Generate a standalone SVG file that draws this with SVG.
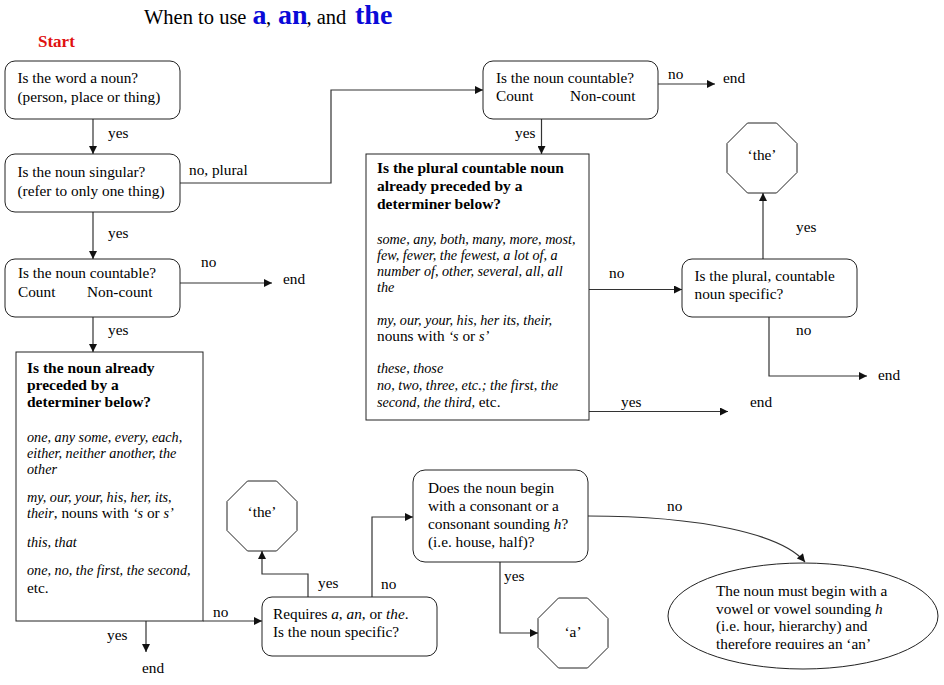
<svg xmlns="http://www.w3.org/2000/svg" width="944" height="685" viewBox="0 0 944 685" font-family="'Liberation Serif', 'DejaVu Serif', serif">
<defs>
<style>
text { font-family: "Liberation Serif", "DejaVu Serif", serif; font-size: 15.3px; fill: #000; }
.b { font-weight: bold; font-size: 15.5px; }
.i { font-style: italic; font-size: 14.2px; }
.n { font-style: normal; font-size: 15.3px; }
.node { fill: #fff; stroke: #222; stroke-width: 1; }
.edge { fill: none; stroke: #333; stroke-width: 1.2; marker-end: url(#ah); }
.c { text-anchor: middle; }
</style>
<marker id="ah" viewBox="0 0 10 10" refX="10" refY="5" markerWidth="9" markerHeight="8" markerUnits="userSpaceOnUse" orient="auto">
<path d="M0,0 L10,5 L0,10 z" fill="#111"/>
</marker>
<clipPath id="ellclip"><rect x="700" y="560" width="220" height="89"/></clipPath>
</defs>
<rect width="944" height="685" fill="#fff"/>

<g id="title">
<text y="24" style="font-size:20.5px"><tspan x="144">When to use </tspan><tspan x="252.5" style="font-size:28px;font-weight:bold;fill:#0a0ad8">a</tspan><tspan x="266">, </tspan><tspan x="278" style="font-size:28px;font-weight:bold;fill:#0a0ad8">an</tspan><tspan x="306.5">, and </tspan><tspan x="355" style="font-size:28px;font-weight:bold;fill:#0a0ad8">the</tspan></text>
<text x="38" y="47" class="b" style="font-size:17px;fill:#e01010">Start</text>
</g>

<g id="connectors">
<path class="edge" d="M93,119 V154"/>
<path class="edge" d="M93,212 V259"/>
<path class="edge" d="M93,317 V352"/>
<path class="edge" d="M180,183 H331 V90 H483"/>
<path class="edge" d="M180,283 H272"/>
<path class="edge" d="M146,621 V652"/>
<path class="edge" d="M203,621 H262"/>
<path class="edge" d="M308,597 V574 H262 V551"/>
<path class="edge" d="M372,597 V517 H413"/>
<path class="edge" d="M500,562 V633 H538"/>
<path class="edge" d="M588,516 C700,516 782,534 805,562"/>
<path class="edge" d="M658,84 H715"/>
<path class="edge" d="M541.5,119 V154"/>
<path class="edge" d="M589,289.5 H682"/>
<path class="edge" d="M589,411.5 H728"/>
<path class="edge" d="M763,259 V193"/>
<path class="edge" d="M769,317 V376 H867"/>
<text x="108" y="138">yes</text>
<text x="108" y="238">yes</text>
<text x="108" y="335">yes</text>
<text x="189" y="175">no, plural</text>
<text x="201" y="267">no</text>
<text x="283" y="284">end</text>
<text x="107" y="640">yes</text>
<text x="142" y="673">end</text>
<text x="213" y="617">no</text>
<text x="318" y="588">yes</text>
<text x="381" y="589">no</text>
<text x="504" y="581">yes</text>
<text x="667" y="511">no</text>
<text x="668" y="79">no</text>
<text x="723" y="83">end</text>
<text x="515" y="138">yes</text>
<text x="609" y="278">no</text>
<text x="621" y="407">yes</text>
<text x="750" y="407">end</text>
<text x="796" y="232">yes</text>
<text x="796" y="335">no</text>
<text x="878" y="380">end</text>
</g>

<g id="n_noun">
<rect class="node" x="5" y="61" width="175" height="58" rx="10"/>
<text x="17.5" y="83">Is the word a noun?</text>
<text x="17.5" y="101.5">(person, place or thing)</text>
</g>

<g id="n_singular">
<rect class="node" x="5" y="154" width="175" height="58" rx="10"/>
<text x="17.5" y="177">Is the noun singular?</text>
<text x="17.5" y="195.5">(refer to only one thing)</text>
</g>

<g id="n_countable1">
<rect class="node" x="5" y="259" width="175" height="58" rx="10"/>
<text x="18" y="278">Is the noun countable?</text>
<text x="18" y="296.5">Count</text>
<text x="87" y="296.5">Non-count</text>
</g>

<g id="n_determiner1">
<rect class="node" x="16" y="352" width="187" height="269"/>
<text x="27" y="373" class="b">Is the noun already</text>
<text x="27" y="390" class="b">preceded by a</text>
<text x="27" y="407" class="b">determiner below?</text>
<text x="27" y="442" class="i">one, any some, every, each,</text>
<text x="27" y="458" class="i">either, neither another, the</text>
<text x="27" y="473.5" class="i">other</text>
<text x="27" y="502" class="i">my, our, your, his, her, its,</text>
<text x="27" y="517.5" class="i">their<tspan class="n">, nouns with </tspan>‘s<tspan class="n"> or </tspan>s’</text>
<text x="27" y="547" class="i">this, that</text>
<text x="27" y="575" class="i">one, no, the first, the second,</text>
<text x="27" y="593">etc.</text>
</g>

<g id="n_the1">
<polygon class="node" points="247.5,481 276.5,481 297,501.5 297,530.5 276.5,551 247.5,551 227,530.5 227,501.5"/>
<text x="262" y="517" class="c">‘the’</text>
</g>

<g id="n_requires">
<rect class="node" x="262" y="597" width="175" height="59" rx="10"/>
<text x="273" y="619">Requires <tspan font-style="italic">a</tspan>, <tspan font-style="italic">an</tspan>, or <tspan font-style="italic">the</tspan>.</text>
<text x="273" y="637">Is the noun specific?</text>
</g>

<g id="n_consonant">
<rect class="node" x="413" y="470" width="175" height="92" rx="12"/>
<text x="428" y="493">Does the noun begin</text>
<text x="428" y="510.5">with a consonant or a</text>
<text x="428" y="528.5">consonant sounding <tspan font-style="italic">h</tspan>?</text>
<text x="428" y="546.5">(i.e. house, half)?</text>
</g>

<g id="n_a">
<polygon class="node" points="558.5,598 587.5,598 608,618.5 608,647.5 587.5,668 558.5,668 538,647.5 538,618.5"/>
<text x="573" y="637" class="c">‘a’</text>
</g>

<g id="n_an">
<ellipse class="node" cx="803" cy="616" rx="135" ry="53"/>
<g clip-path="url(#ellclip)">
<text x="716" y="596">The noun must begin with a</text>
<text x="716" y="613.5">vowel or vowel sounding <tspan font-style="italic">h</tspan></text>
<text x="716" y="631">(i.e. hour, hierarchy) and</text>
<text x="716" y="648.5">therefore requires an ‘an’</text>
</g>
</g>

<g id="n_countable2">
<rect class="node" x="483" y="61" width="175" height="58" rx="10"/>
<text x="496" y="83">Is the noun countable?</text>
<text x="496" y="100.5">Count</text>
<text x="570" y="100.5">Non-count</text>
</g>

<g id="n_determiner2">
<rect class="node" x="366" y="154" width="223" height="266"/>
<text x="377" y="173" class="b">Is the plural countable noun</text>
<text x="377" y="191" class="b">already preceded by a</text>
<text x="377" y="208.5" class="b">determiner below?</text>
<text x="377" y="243.5" class="i">some, any, both, many, more, most,</text>
<text x="377" y="260" class="i">few, fewer, the fewest, a lot of, a</text>
<text x="377" y="276" class="i">number of, other, several, all, all</text>
<text x="377" y="292" class="i">the</text>
<text x="377" y="325" class="i">my, our, your, his, her its, their,</text>
<text x="377" y="341"><tspan>nouns with </tspan><tspan class="i">‘s</tspan> or <tspan class="i">s’</tspan></text>
<text x="377" y="373" class="i">these, those</text>
<text x="377" y="390" class="i">no, two, three, etc.; the first, the</text>
<text x="377" y="407" class="i">second, the third,<tspan class="n"> etc.</tspan></text>
</g>

<g id="n_specific2">
<rect class="node" x="682" y="259" width="175" height="58" rx="10"/>
<text x="694.5" y="281">Is the plural, countable</text>
<text x="694.5" y="299">noun specific?</text>
</g>

<g id="n_the2">
<polygon class="node" points="747.5,123 776.5,123 797,143.5 797,172.5 776.5,193 747.5,193 727,172.5 727,143.5"/>
<text x="762" y="160" class="c">‘the’</text>
</g>
</svg>
